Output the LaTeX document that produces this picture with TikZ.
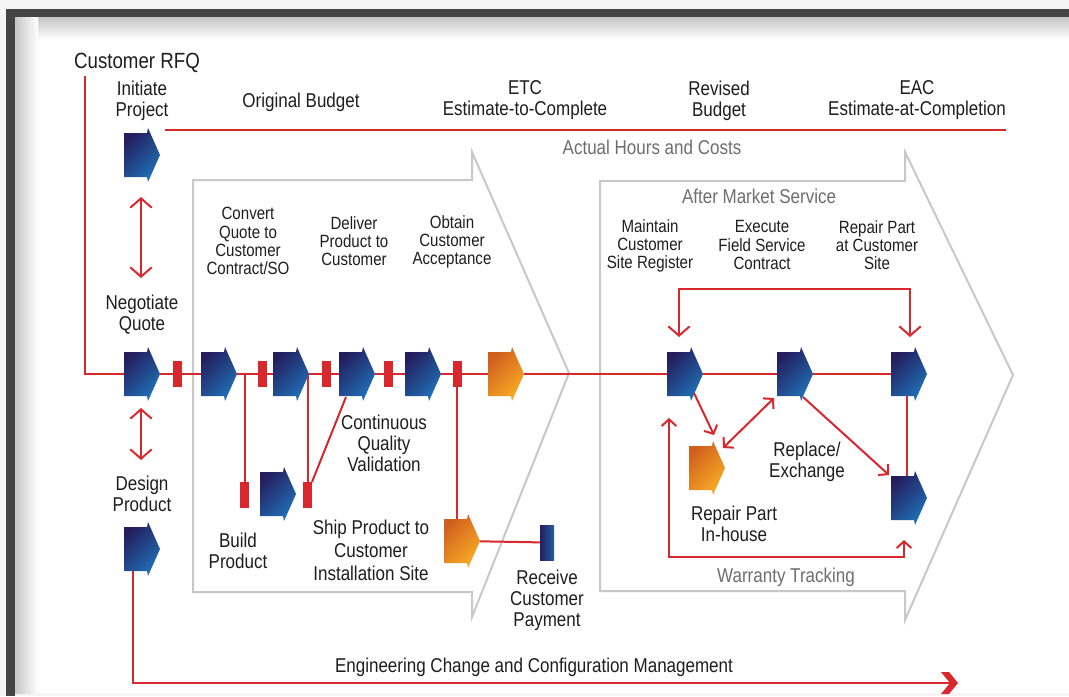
\documentclass[tikz,border=0pt]{standalone}
\usepackage{fontspec}
\setmainfont[FakeStretch=0.85]{Liberation Sans}
\usetikzlibrary{arrows.meta,calc}
\definecolor{redc}{RGB}{217,39,46}
\definecolor{navyc}{RGB}{36,30,94}
\definecolor{bluec}{RGB}{32,112,182}
\definecolor{orD}{RGB}{208,94,30}
\definecolor{orL}{RGB}{248,172,36}
\definecolor{chevc}{RGB}{200,200,200}
\definecolor{txtc}{RGB}{30,30,30}
\definecolor{grayt}{RGB}{110,110,110}
\definecolor{barc}{RGB}{68,68,68}
\definecolor{outerc}{RGB}{245,245,245}
\pgfdeclarelayer{bgA}
\pgfdeclarelayer{bgB}
\pgfsetlayers{bgA,bgB,main}
\begin{document}
\begin{tikzpicture}[x=0.75pt,y=-0.75pt,
  icon/.style 2 args={minimum width=27pt, minimum height=40.5pt, inner sep=0pt, outer sep=0pt,
    path picture={\shade[shift={(path picture bounding box.center)}, left color=#1, right color=#2, shading angle=45]
      (-13.5pt,-16.5pt) -- (3.75pt,-16.5pt) -- (4.5pt,-20.25pt) -- (13.5pt,0pt) -- (4.5pt,20.25pt) -- (3.75pt,16.5pt) -- (-13.5pt,16.5pt) -- cycle;}},
  iconb/.style={icon={navyc}{bluec}},
  icono/.style={icon={orD}{orL}},
  rrect/.style={fill=redc, minimum width=6.75pt, minimum height=19.5pt, inner sep=0pt, outer sep=0pt},
  lbl/.style={align=center, text=txtc, font=\fontsize{15}{15.8}\selectfont, inner sep=0pt},
  slbl/.style={lbl, font=\fontsize{13.3}{13.6}\selectfont},
  glbl/.style={lbl, text=grayt},
  rline/.style={draw=redc, line width=1.5pt},
  chev/.style={draw=chevc, line width=1.5pt},
  dblbig/.style={{Straight Barb[length=7pt,width=16pt]}-{Straight Barb[length=7pt,width=16pt]}},
  dblsmall/.style={{Straight Barb[length=5pt,width=11pt]}-{Straight Barb[length=5pt,width=11pt]}},
  onesmall/.style={-{Straight Barb[length=5pt,width=11pt]}}
]
\useasboundingbox (0,0) rectangle (1069,696);

% ---------- frame and chevrons ----------
\begin{pgfonlayer}{bgA}
\fill[outerc] (0,0) rectangle (1069,696);
\fill[white] (15,17) rectangle (1069,693);
\shade[top color=black!22, bottom color=white] (15,17) rectangle (1069,40);
\shade[left color=black!22, right color=white] (15,17) rectangle (38,693);
\fill[barc] (6,9) rectangle (1069,17);
\fill[barc] (6,9) rectangle (15,696);
\draw[chev, line join=miter] (193,180) -- (472,180) -- (472,152) -- (569,373) -- (472,617) -- (472,592) -- (193,592) -- cycle;
\draw[chev, line join=miter] (600,181) -- (905,181) -- (905,152) -- (1013,375) -- (905,620) -- (905,591) -- (600,591) -- cycle;
\end{pgfonlayer}

% ---------- icons ----------
\node[iconb] (init) at (142,155) {};
\node[iconb] (neg) at (142,374) {};
\node[iconb] (des) at (142,549) {};
\node[iconb] (conv) at (219,374) {};
\node[iconb] (deliv) at (291,374) {};
\node[iconb] (valid) at (357,374) {};
\node[iconb] (accept) at (423,374) {};
\node[icono] (or1) at (506,374) {};
\node[iconb] (build) at (278,494) {};
\node[icono] (ship) at (462,541) {};
\node[iconb] (maint) at (685,374) {};
\node[iconb] (exec) at (795,374) {};
\node[iconb] (repsite) at (909,374) {};
\node[iconb] (replow) at (909,498) {};
\node[icono] (inhouse) at (707,468) {};
\node[minimum width=10.5pt, minimum height=26.25pt, inner sep=0pt, outer sep=0pt, left color=navyc, right color=bluec!80!navyc] (pay) at (547,542.5) {};

% red connector blocks
\node[rrect] (r1) at (177,374) {};
\node[rrect] (r2) at (262,374) {};
\node[rrect] (r3) at (326,374) {};
\node[rrect] (r4) at (388,374) {};
\node[rrect] (r5) at (457,374) {};
\node[rrect] (r6) at (244.5,495) {};
\node[rrect] (r7) at (307.5,495) {};

% ---------- labels ----------
\node[lbl, font=\fontsize{16.5}{17}\selectfont] (tRFQ) at (137,63) {Customer RFQ};
\node[lbl] (tInit) at (142,101) {Initiate\\Project};
\node[lbl] (tOrig) at (301,102) {Original Budget};
\node[lbl] (tETC) at (525,100.5) {ETC\\Estimate-to-Complete};
\node[lbl] (tRev) at (719,100.5) {Revised\\Budget};
\node[lbl] (tEAC) at (917,100.5) {EAC\\Estimate-at-Completion};
\node[glbl] (tAct) at (652,147) {Actual Hours and Costs};
\node[glbl] (tAfter) at (759,196) {After Market Service};
\node[lbl] (tNeg) at (142,315) {Negotiate\\Quote};
\node[lbl] (tDes) at (142,494) {Design\\Product};
\node[slbl] (tConv) at (248,241) {Convert\\Quote to\\Customer\\Contract/SO};
\node[slbl] (tDeliv) at (354,241) {Deliver\\Product to\\Customer};
\node[slbl] (tObt) at (452,242) {Obtain\\Customer\\Acceptance};
\node[slbl] (tMaint) at (650,246) {Maintain\\Customer\\Site Register};
\node[slbl] (tExec) at (762,245) {Execute\\Field Service\\Contract};
\node[slbl] (tRep) at (877,245) {Repair Part\\at Customer\\Site};
\node[lbl] (tCont) at (384,443.5) {Continuous\\Quality\\Validation};
\node[lbl] (tBuild) at (238,551) {Build\\Product};
\node[lbl, font=\fontsize{15}{17.2}\selectfont] (tShip) at (371,550.5) {Ship Product to\\Customer\\Installation Site};
\node[lbl] (tRecv) at (547,600.5) {Receive\\Customer\\Payment};
\node[lbl] (tRepl) at (807,462) {Replace/\\Exchange};
\node[lbl] (tInh) at (734,523.5) {Repair Part\\In-house};
\node[glbl] (tWar) at (786,577) {Warranty Tracking};
\node[lbl] (tEng) at (534,667) {Engineering Change and Configuration Management};

% ---------- connectors ----------
\coordinate (rfq0) at (85,76);
\coordinate (tl0) at (165,130);
\coordinate (tl1) at (1006,130);
\coordinate (engc) at (133,683);
\coordinate (enge) at (950,683);
\begin{pgfonlayer}{bgB}
\draw[rline] (tl0) -- (tl1);
\draw[rline] (rfq0) -- (rfq0 |- neg) -- (neg.west);
\draw[rline] (neg) -- (r1) -- (conv) -- (r2) -- (deliv) -- (r3) -- (valid) -- (r4) -- (accept) -- (r5) -- (or1) -- (maint) -- (exec) -- (repsite);
\draw[rline] (r6 |- conv) -- (r6.north);
\draw[rline] (r7 |- deliv) -- (r7.north);
\draw[rline] ($(valid.center)+(-11,23)$) -- (r7.north east);
\draw[rline] (r5) -- (r5 |- ship);
\draw[rline] (ship) -- (pay);
\draw[rline] (des -| engc) -- (engc) -- (enge);
\draw[rline] ($(repsite.center)+(-2,15)$) -- ($(replow.center)+(-2,-15)$);
\end{pgfonlayer}
\fill[redc] ([shift={(-9,-11)}]enge) -- ++(8,0) -- ++(9,11) -- ++(-9,11) -- ++(-8,0) -- ++(9,-11) -- cycle;

\draw[rline, dblbig] ($(init.south)+(-1,15)$) -- ($(neg.north)+(-1,-69)$);
\draw[rline, dblbig] ($(neg.south)+(-1,7)$) -- ($(des.north)+(-1,-62)$);
\draw[rline, dblbig] ($(maint.north)+(-6,-10)$) -- ++(0,-48) -| ($(repsite.north)+(1,-10)$);
\draw[rline, onesmall] ($(maint.center)+(9,19)$) -- ($(inhouse.center)+(7,-33)$);
\draw[rline, dblsmall] ($(inhouse.center)+(16,-20)$) -- ($(exec.center)+(-21,24)$);
\draw[rline, onesmall] ($(exec.center)+(8,23)$) -- ($(replow.center)+(-20,-23)$);
\draw[rline, dblsmall] ($(maint.center)+(-16,44)$) -- ++(0,139) -| ($(replow.center)+(-5,42)$);
\end{tikzpicture}
\end{document}
